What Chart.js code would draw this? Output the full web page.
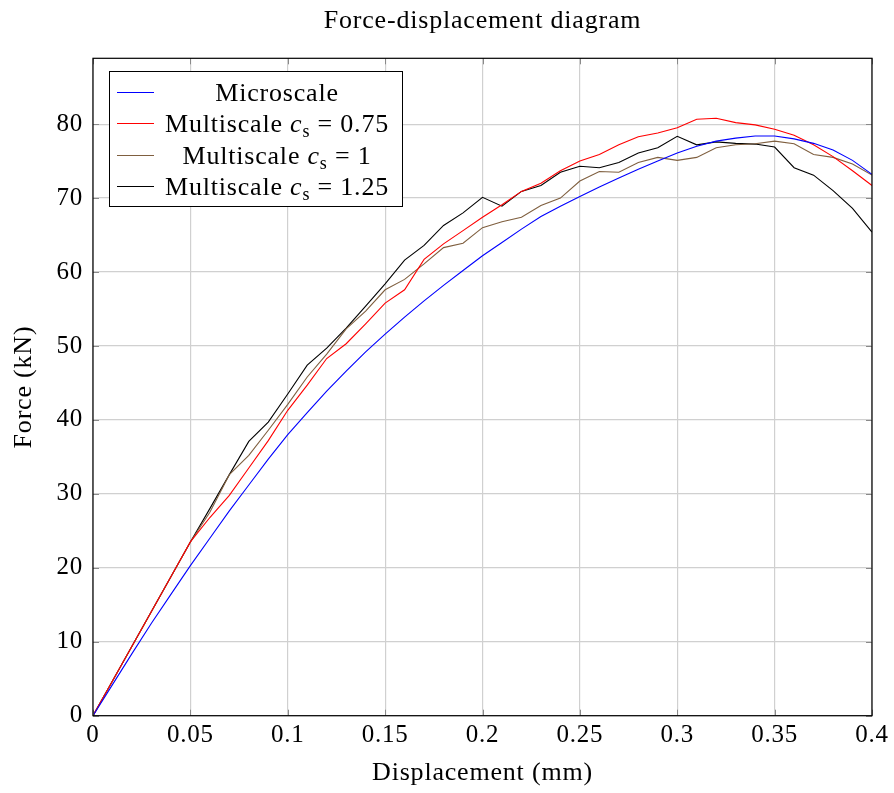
<!DOCTYPE html>
<html>
<head>
<meta charset="utf-8">
<script src="https://cdn.jsdelivr.net/npm/chart.js@4/dist/chart.umd.min.js"></script>
<style>
  html, body { margin: 0; padding: 0; background: #ffffff; }
  #wrap { position: relative; width: 894px; height: 793px; }
</style>
</head>
<body>
<div id="wrap"><canvas id="forceChart"></canvas></div>
<script>
// displacement (mm)
const displacement = [0, 0.01, 0.02, 0.03, 0.04, 0.05, 0.06, 0.07, 0.08, 0.09, 0.1,
    0.11, 0.12, 0.13, 0.14, 0.15, 0.16, 0.17, 0.18, 0.19, 0.2,
    0.21, 0.22, 0.23, 0.24, 0.25, 0.26, 0.27, 0.28, 0.29, 0.3,
    0.31, 0.32, 0.33, 0.34, 0.35, 0.36, 0.37, 0.38, 0.39, 0.4];

// force (kN)
const microscale = [0, 4.2, 8.4, 12.5, 16.4, 20.3, 24.0, 27.7, 31.2, 34.7, 38.0,
    41.0, 43.9, 46.6, 49.2, 51.6, 53.9, 56.1, 58.2, 60.2, 62.2,
    64.0, 65.8, 67.5, 68.9, 70.2, 71.5, 72.7, 73.9, 75.0, 76.1,
    77.0, 77.7, 78.1, 78.4, 78.4, 78.0, 77.4, 76.5, 75.1, 73.2];

const multiscale075 = [0, 4.7, 9.4, 14.1, 18.8, 23.5, 26.8, 29.8, 33.5, 37.2, 41.3,
    44.7, 48.3, 50.3, 53.0, 55.8, 57.6, 61.7, 63.8, 65.6, 67.4,
    69.1, 70.9, 72.0, 73.7, 75.0, 75.9, 77.2, 78.3, 78.8, 79.5,
    80.65, 80.8, 80.2, 79.9, 79.3, 78.5, 77.2, 75.6, 73.7, 71.7];

const multiscale100 = [0, 4.7, 9.4, 14.1, 18.8, 23.5, 27.5, 32.6, 35.2, 38.6, 42.1,
    45.8, 48.9, 52.3, 54.7, 57.6, 59.0, 61.1, 63.3, 63.9, 66.0,
    66.8, 67.4, 69.0, 70.0, 72.3, 73.6, 73.5, 74.8, 75.5, 75.1,
    75.5, 76.8, 77.2, 77.35, 77.7, 77.35, 75.9, 75.5, 74.6, 73.1];

const multiscale125 = [0, 4.7, 9.4, 14.1, 18.8, 23.5, 28.0, 32.6, 37.1, 39.7, 43.5,
    47.4, 49.7, 52.4, 55.4, 58.4, 61.6, 63.6, 66.3, 68.0, 70.1,
    68.9, 70.9, 71.7, 73.5, 74.3, 74.1, 74.8, 76.1, 76.8, 78.35,
    77.2, 77.6, 77.4, 77.3, 76.9, 74.1, 73.1, 71.0, 68.6, 65.4];

const seriesNames = ["Microscale", "Multiscale", "Multiscale", "Multiscale"];
const csValues = [null, "0.75", "1", "1.25"];
const seriesColors = ["#0000ff", "#ff0000", "#7f5f3f", "#000000"];

const xTicks = [0, 0.05, 0.1, 0.15, 0.2, 0.25, 0.3, 0.35, 0.4];
const xTickLabels = ["0", "0.05", "0.1", "0.15", "0.2", "0.25", "0.3", "0.35", "0.4"];
const yTicks = [0, 10, 20, 30, 40, 50, 60, 70, 80];

const FONT = "'Liberation Serif', 'Times New Roman', serif";

const toPoints = ys => displacement.map((x, i) => ({ x: x, y: ys[i] }));
const allSeries = [microscale, multiscale075, multiscale100, multiscale125];

const datasets = allSeries.map((ys, i) => ({
    label: csValues[i] ? seriesNames[i] + " c_s = " + csValues[i] : seriesNames[i],
    data: toPoints(ys),
    borderColor: seriesColors[i],
    backgroundColor: seriesColors[i],
    borderWidth: 1.1,
    pointRadius: 0,
    tension: 0,
    fill: false
}));

// computer-modern is wider than Liberation Serif, widen a bit
const spacingPlugin = {
    id: "spacing",
    beforeUpdate(chart) { chart.ctx.letterSpacing = "0.8px"; },
    beforeDraw(chart) { chart.ctx.letterSpacing = "0.8px"; }
};

// frame, inward tick marks and the boxed legend (pgfplots look)
const framePlugin = {
    id: "frame",
    afterDatasetsDraw(chart) {
        const { ctx, chartArea: a, scales } = chart;
        ctx.save();

        // inner tick marks
        ctx.strokeStyle = "#8a8a8a";
        ctx.lineWidth = 1;
        const tl = 6;
        ctx.beginPath();
        xTicks.forEach(v => {
            const px = Math.round(scales.x.getPixelForValue(v)) + 0.5;
            ctx.moveTo(px, a.bottom); ctx.lineTo(px, a.bottom - tl);
            ctx.moveTo(px, a.top); ctx.lineTo(px, a.top + tl);
        });
        yTicks.forEach(v => {
            const py = Math.round(scales.y.getPixelForValue(v)) + 0.5;
            ctx.moveTo(a.left, py); ctx.lineTo(a.left + tl, py);
            ctx.moveTo(a.right, py); ctx.lineTo(a.right - tl, py);
        });
        ctx.stroke();

        // axis box
        ctx.strokeStyle = "#000000";
        ctx.lineWidth = 1.2;
        ctx.strokeRect(a.left, a.top, a.right - a.left, a.bottom - a.top);

        // legend
        const bx = Math.round(a.left + 16), by = Math.round(a.top + 13), bw = 293, bh = 135;
        ctx.fillStyle = "#ffffff";
        ctx.fillRect(bx, by, bw, bh);
        ctx.strokeStyle = "#000000";
        ctx.lineWidth = 1;
        ctx.strokeRect(bx + 0.5, by + 0.5, bw, bh);

        const rowY = [21, 52, 84, 115];
        const textCenter = bx + 168;
        const normal = "26px " + FONT;
        const italic = "italic 26px " + FONT;
        const small = "18px " + FONT;

        seriesNames.forEach((name, i) => {
            const y = by + rowY[i];
            ctx.fillStyle = seriesColors[i];
            ctx.fillRect(bx + 8, y, 37, 1);

            const parts = [{ t: name + (csValues[i] ? " " : ""), f: normal, dy: 0 }];
            if (csValues[i]) {
                parts.push({ t: "c", f: italic, dy: 0 });
                parts.push({ t: "s", f: small, dy: 5 });
                parts.push({ t: " = " + csValues[i], f: normal, dy: 0 });
            }
            let total = 0;
            parts.forEach(p => { ctx.font = p.f; p.w = ctx.measureText(p.t).width; total += p.w; });
            let x = textCenter - total / 2;
            ctx.fillStyle = "#000000";
            ctx.textBaseline = "alphabetic";
            ctx.textAlign = "left";
            parts.forEach(p => {
                ctx.font = p.f;
                ctx.fillText(p.t, x, y + 9 + p.dy);
                x += p.w;
            });
        });

        ctx.restore();
    }
};

const canvas = document.getElementById("forceChart");
canvas.width = 894;
canvas.height = 793;

new Chart(canvas.getContext("2d"), {
    type: "line",
    data: { datasets: datasets },
    options: {
        responsive: false,
        animation: false,
        layout: { padding: { left: 0, right: 22, top: 0, bottom: 0 } },
        plugins: {
            legend: { display: false },
            tooltip: { enabled: false },
            title: {
                display: true,
                fullSize: false,
                text: "Force-displacement diagram",
                color: "#000000",
                font: { family: FONT, size: 26, weight: "normal", lineHeight: 1.2 },
                padding: { top: 6, bottom: 21.1 }
            }
        },
        scales: {
            x: {
                type: "linear",
                min: 0,
                max: 0.4,
                afterFit: s => { s.height = 77.3; },
                afterBuildTicks: s => { s.ticks = xTicks.map(v => ({ value: v })); },
                ticks: {
                    color: "#000000",
                    padding: 5,
                    maxRotation: 0,
                    autoSkip: false,
                    font: { family: FONT, size: 25 },
                    callback: (v, i) => xTickLabels[i]
                },
                grid: { color: "#d0d0d0", lineWidth: 1.2, drawTicks: false },
                border: { display: false },
                title: {
                    display: true,
                    text: "Displacement (mm)",
                    color: "#000000",
                    font: { family: FONT, size: 26, lineHeight: 1.2 },
                    padding: { top: 0, bottom: 4 }
                }
            },
            y: {
                type: "linear",
                min: 0,
                max: 88.9,
                afterFit: s => { s.width = 93; },
                afterBuildTicks: s => { s.ticks = yTicks.map(v => ({ value: v })); },
                ticks: {
                    color: "#000000",
                    padding: 10,
                    font: { family: FONT, size: 25 },
                    callback: v => String(v)
                },
                grid: { color: "#d0d0d0", lineWidth: 1.2, drawTicks: false },
                border: { display: false },
                title: {
                    display: true,
                    text: "Force (kN)",
                    color: "#000000",
                    font: { family: FONT, size: 26, lineHeight: 1.2 },
                    padding: { top: 9, bottom: 0 }
                }
            }
        }
    },
    plugins: [spacingPlugin, framePlugin]
});
</script>
</body>
</html>
